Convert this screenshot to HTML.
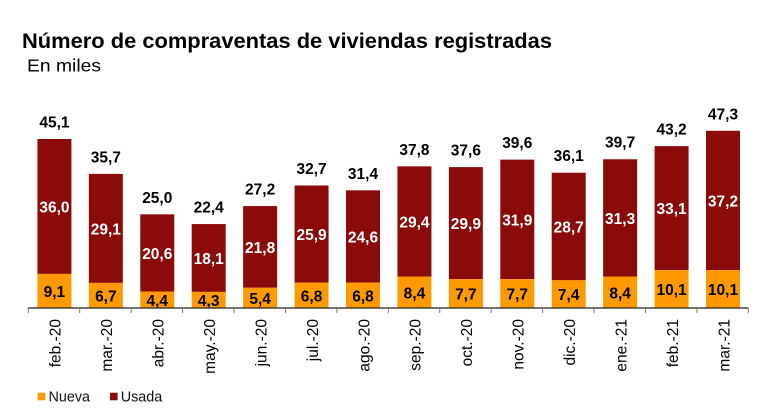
<!DOCTYPE html>
<html><head><meta charset="utf-8"><style>
html,body{margin:0;padding:0;background:#fff;}
svg{display:block;font-family:"Liberation Sans",Arial,sans-serif;}
.t{font-weight:bold;font-size:15.5px;fill:#000;text-anchor:middle;}
.u{font-weight:bold;font-size:15.5px;fill:#fff;text-anchor:middle;}
.n{font-weight:bold;font-size:15.5px;fill:#000;text-anchor:middle;}
.x{font-size:15.5px;fill:#000;text-anchor:end;}
</style></head><body>
<svg width="784" height="417" viewBox="0 0 784 417" xmlns="http://www.w3.org/2000/svg">
<text x="22" y="48" font-size="21" font-weight="bold" textLength="530" lengthAdjust="spacingAndGlyphs">Número de compraventas de viviendas registradas</text>
<text x="27" y="71.7" font-size="17.5" textLength="74" lengthAdjust="spacingAndGlyphs">En miles</text>
<g id="bars"></g>
<g id="labels"></g>
<g id="axis"></g>
<rect x="37.7" y="392.7" width="7.6" height="7.6" fill="#FF9900"/>
<text x="48.5" y="401.7" font-size="14.5" fill="#111" textLength="41.5" lengthAdjust="spacingAndGlyphs">Nueva</text>
<rect x="110" y="392.7" width="7.6" height="7.6" fill="#8B0A0A"/>
<text x="120.7" y="401.7" font-size="14.5" fill="#111" textLength="41.6" lengthAdjust="spacingAndGlyphs">Usada</text>
</svg>
<script>
(function(){
var d=[["feb.-20",9.1,36.0,"45,1","9,1","36,0"],["mar.-20",6.7,29.1,"35,7","6,7","29,1"],["abr.-20",4.4,20.6,"25,0","4,4","20,6"],["may.-20",4.3,18.1,"22,4","4,3","18,1"],["jun.-20",5.4,21.8,"27,2","5,4","21,8"],["jul.-20",6.8,25.9,"32,7","6,8","25,9"],["ago.-20",6.8,24.6,"31,4","6,8","24,6"],["sep.-20",8.4,29.4,"37,8","8,4","29,4"],["oct.-20",7.7,29.9,"37,6","7,7","29,9"],["nov.-20",7.7,31.9,"39,6","7,7","31,9"],["dic.-20",7.4,28.7,"36,1","7,4","28,7"],["ene.-21",8.4,31.3,"39,7","8,4","31,3"],["feb.-21",10.1,33.1,"43,2","10,1","33,1"],["mar.-21",10.1,37.2,"47,3","10,1","37,2"]];
var ns="http://www.w3.org/2000/svg",B=308,s=3.747;
var gb=document.getElementById("bars"),gl=document.getElementById("labels"),ga=document.getElementById("axis");
function el(p,t,a,txt){var e=document.createElementNS(ns,t);for(var k in a)e.setAttribute(k,a[k]);if(txt!=null)e.textContent=txt;p.appendChild(e);return e;}
d.forEach(function(r,i){
 var cx=28.7+51.43*(i+0.5),x=cx-17;
 var tot=r[1]+r[2],th=tot*s,nh=r[1]*s,top=B-th,nt=B-nh;
 el(gb,"rect",{x:x,y:top,width:34,height:th-nh,fill:"#8B0A0A"});
 el(gb,"rect",{x:x,y:nt,width:34,height:nh,fill:"#FF9900"});
 el(gl,"text",{"class":"t",x:cx,y:top-11.5},r[3]);
 el(gl,"text",{"class":"u",x:cx,y:(top+nt)/2+6},r[5]);
 el(gl,"text",{"class":"n",x:cx,y:(nt+B)/2+6},r[4]);
 el(gl,"text",{"class":"x",transform:"translate("+(cx+6.3)+",319) rotate(-90)"},r[0]);
});
el(ga,"line",{x1:28,y1:308,x2:748.5,y2:308,stroke:"#222","stroke-width":1.3});
for(var i=0;i<=14;i++){var tx=28.3+51.43*i;el(ga,"line",{x1:tx,y1:308,x2:tx,y2:313,stroke:"#777","stroke-width":1});}
})();
</script>
</body></html>
